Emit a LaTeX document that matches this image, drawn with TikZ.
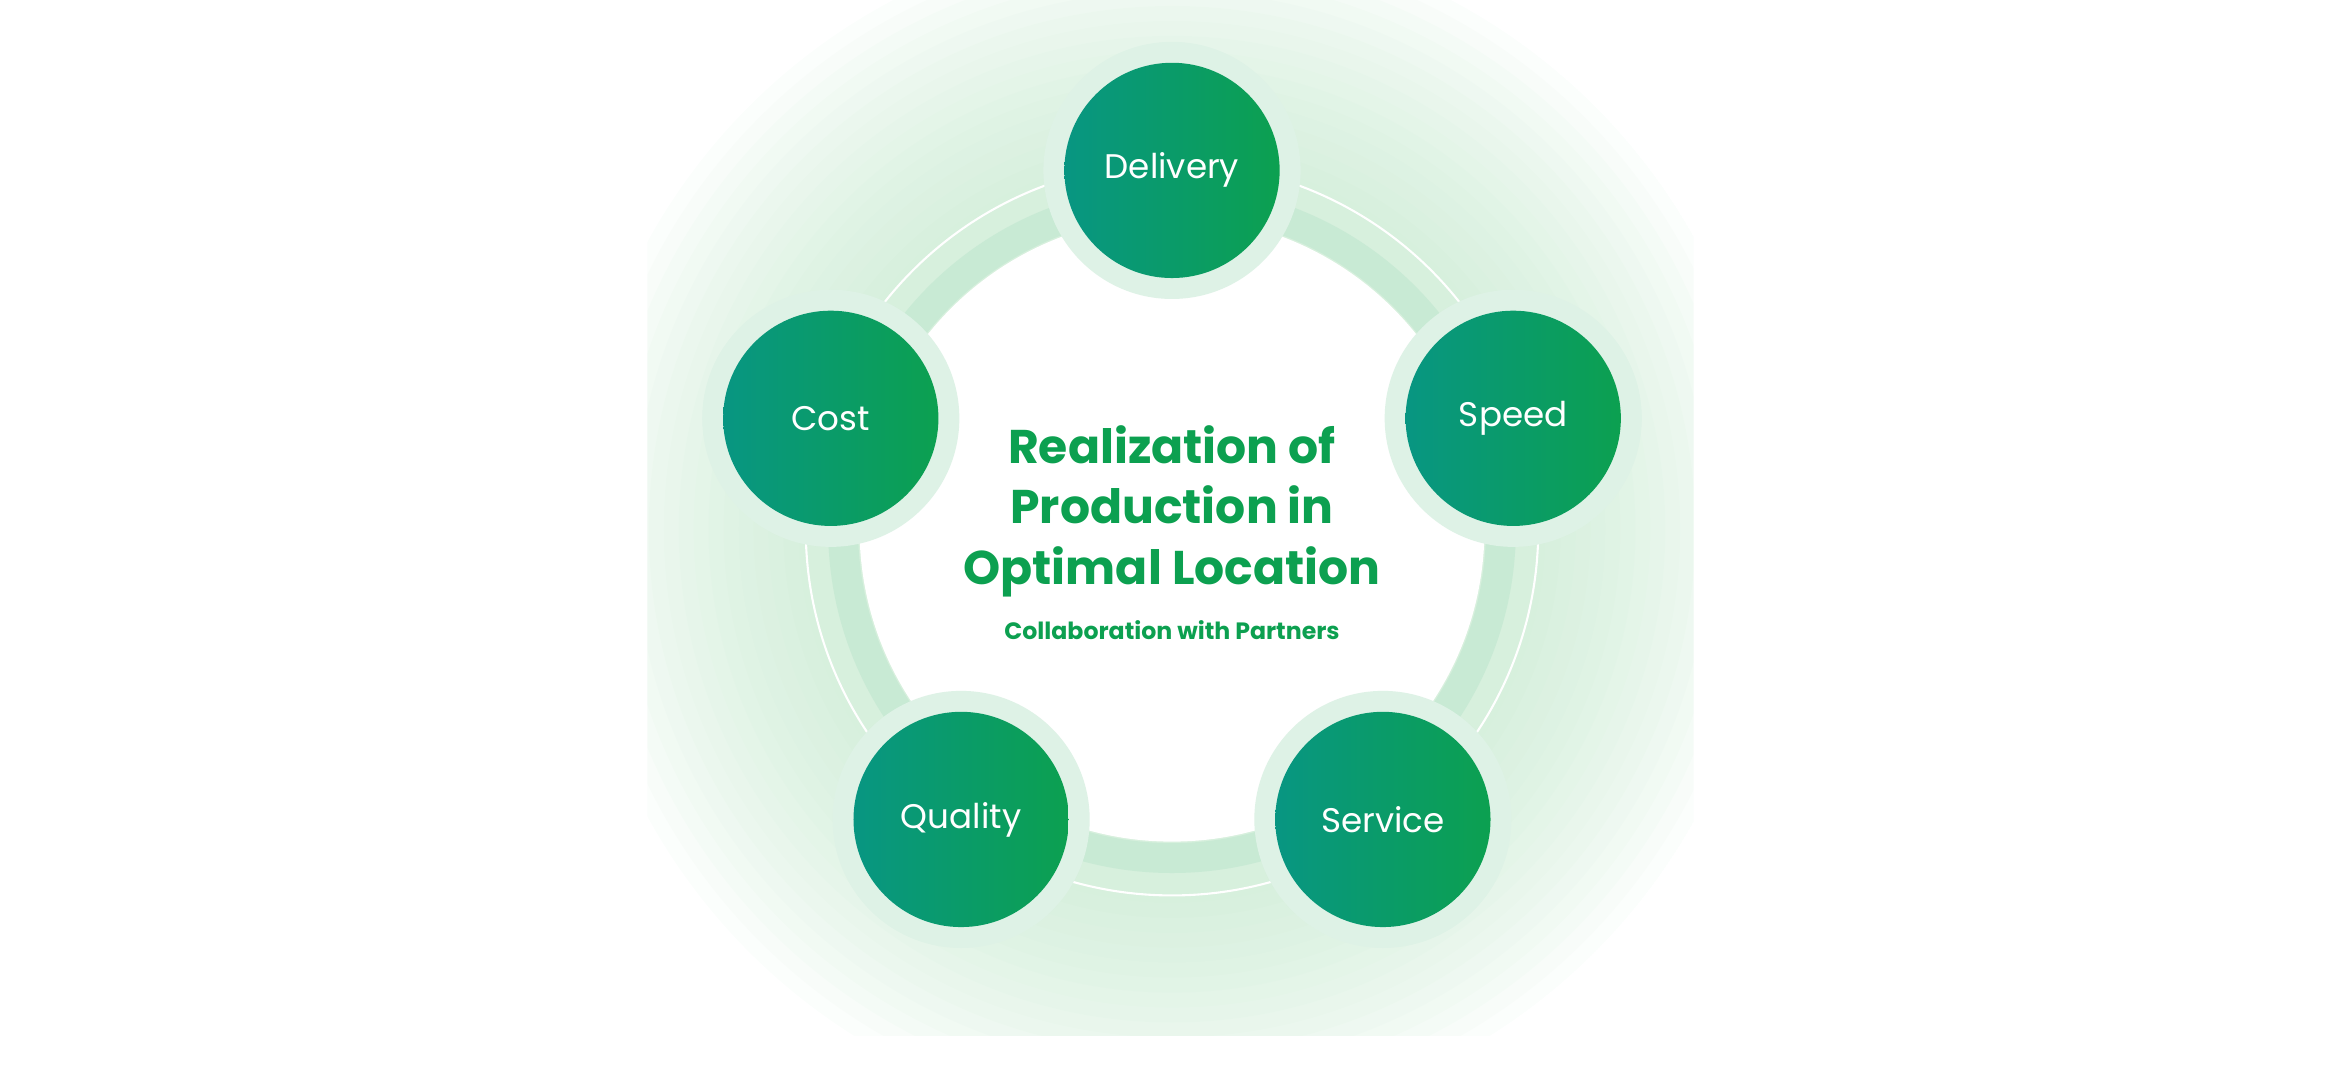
\documentclass[tikz,border=0pt]{standalone}
\usepackage{fontspec}
\setmainfont{Poppins}
\usetikzlibrary{calc,positioning}
\definecolor{leafgreen}{RGB}{12,160,80}
\definecolor{tealgreen}{RGB}{8,150,130}
\definecolor{halo}{RGB}{222,242,230}
\definecolor{band}{RGB}{200,234,212}
\definecolor{glowgreen}{RGB}{190,230,200}
\begin{document}
\begin{tikzpicture}[x=0.02cm,y=0.02cm]
 \tikzstyle{topic}=[circle, minimum size=144*0.02cm, inner sep=0pt, left color=tealgreen, right color=leafgreen, text=white, font=\fontsize{13}{15}\selectfont]
 \tikzstyle{ring}=[circle, fill=halo, minimum size=172*0.02cm, inner sep=0pt]
 \useasboundingbox (0,0) rectangle (1568,716);
 \coordinate (O) at (784,362);
 % soft glow behind the ring
 \begin{scope}
  \clip (433,23) rectangle (1133,716);
  \clip (O) circle (400);
  \foreach \r in {400,390,...,250}
   \fill[glowgreen, fill opacity=0.06] (O) circle (\r);
 \end{scope}
 \draw[band, line width=20*0.02cm] (O) circle (220);
 \draw[white, line width=0.8pt] (O) circle (245);
 \fill[white] (O) circle (209);
 % the five topics
 \foreach \name/\ang in {Delivery/90, Speed/18, Service/-54, Quality/-126, Cost/162}{
  \node[ring] (h\name) at ($(O)+(\ang:240)$) {};
  \node[topic] (\name) at (h\name) {\name};
 }
 \node[text=leafgreen, align=center, font=\fontsize{18}{23}\selectfont\bfseries] (title) at (784,374)
  {Realization of\\Production in\\Optimal Location};
 \node[text=leafgreen, font=\fontsize{9}{11}\selectfont\bfseries, below=2pt of title] (sub) {Collaboration with Partners};
\end{tikzpicture}
\end{document}
